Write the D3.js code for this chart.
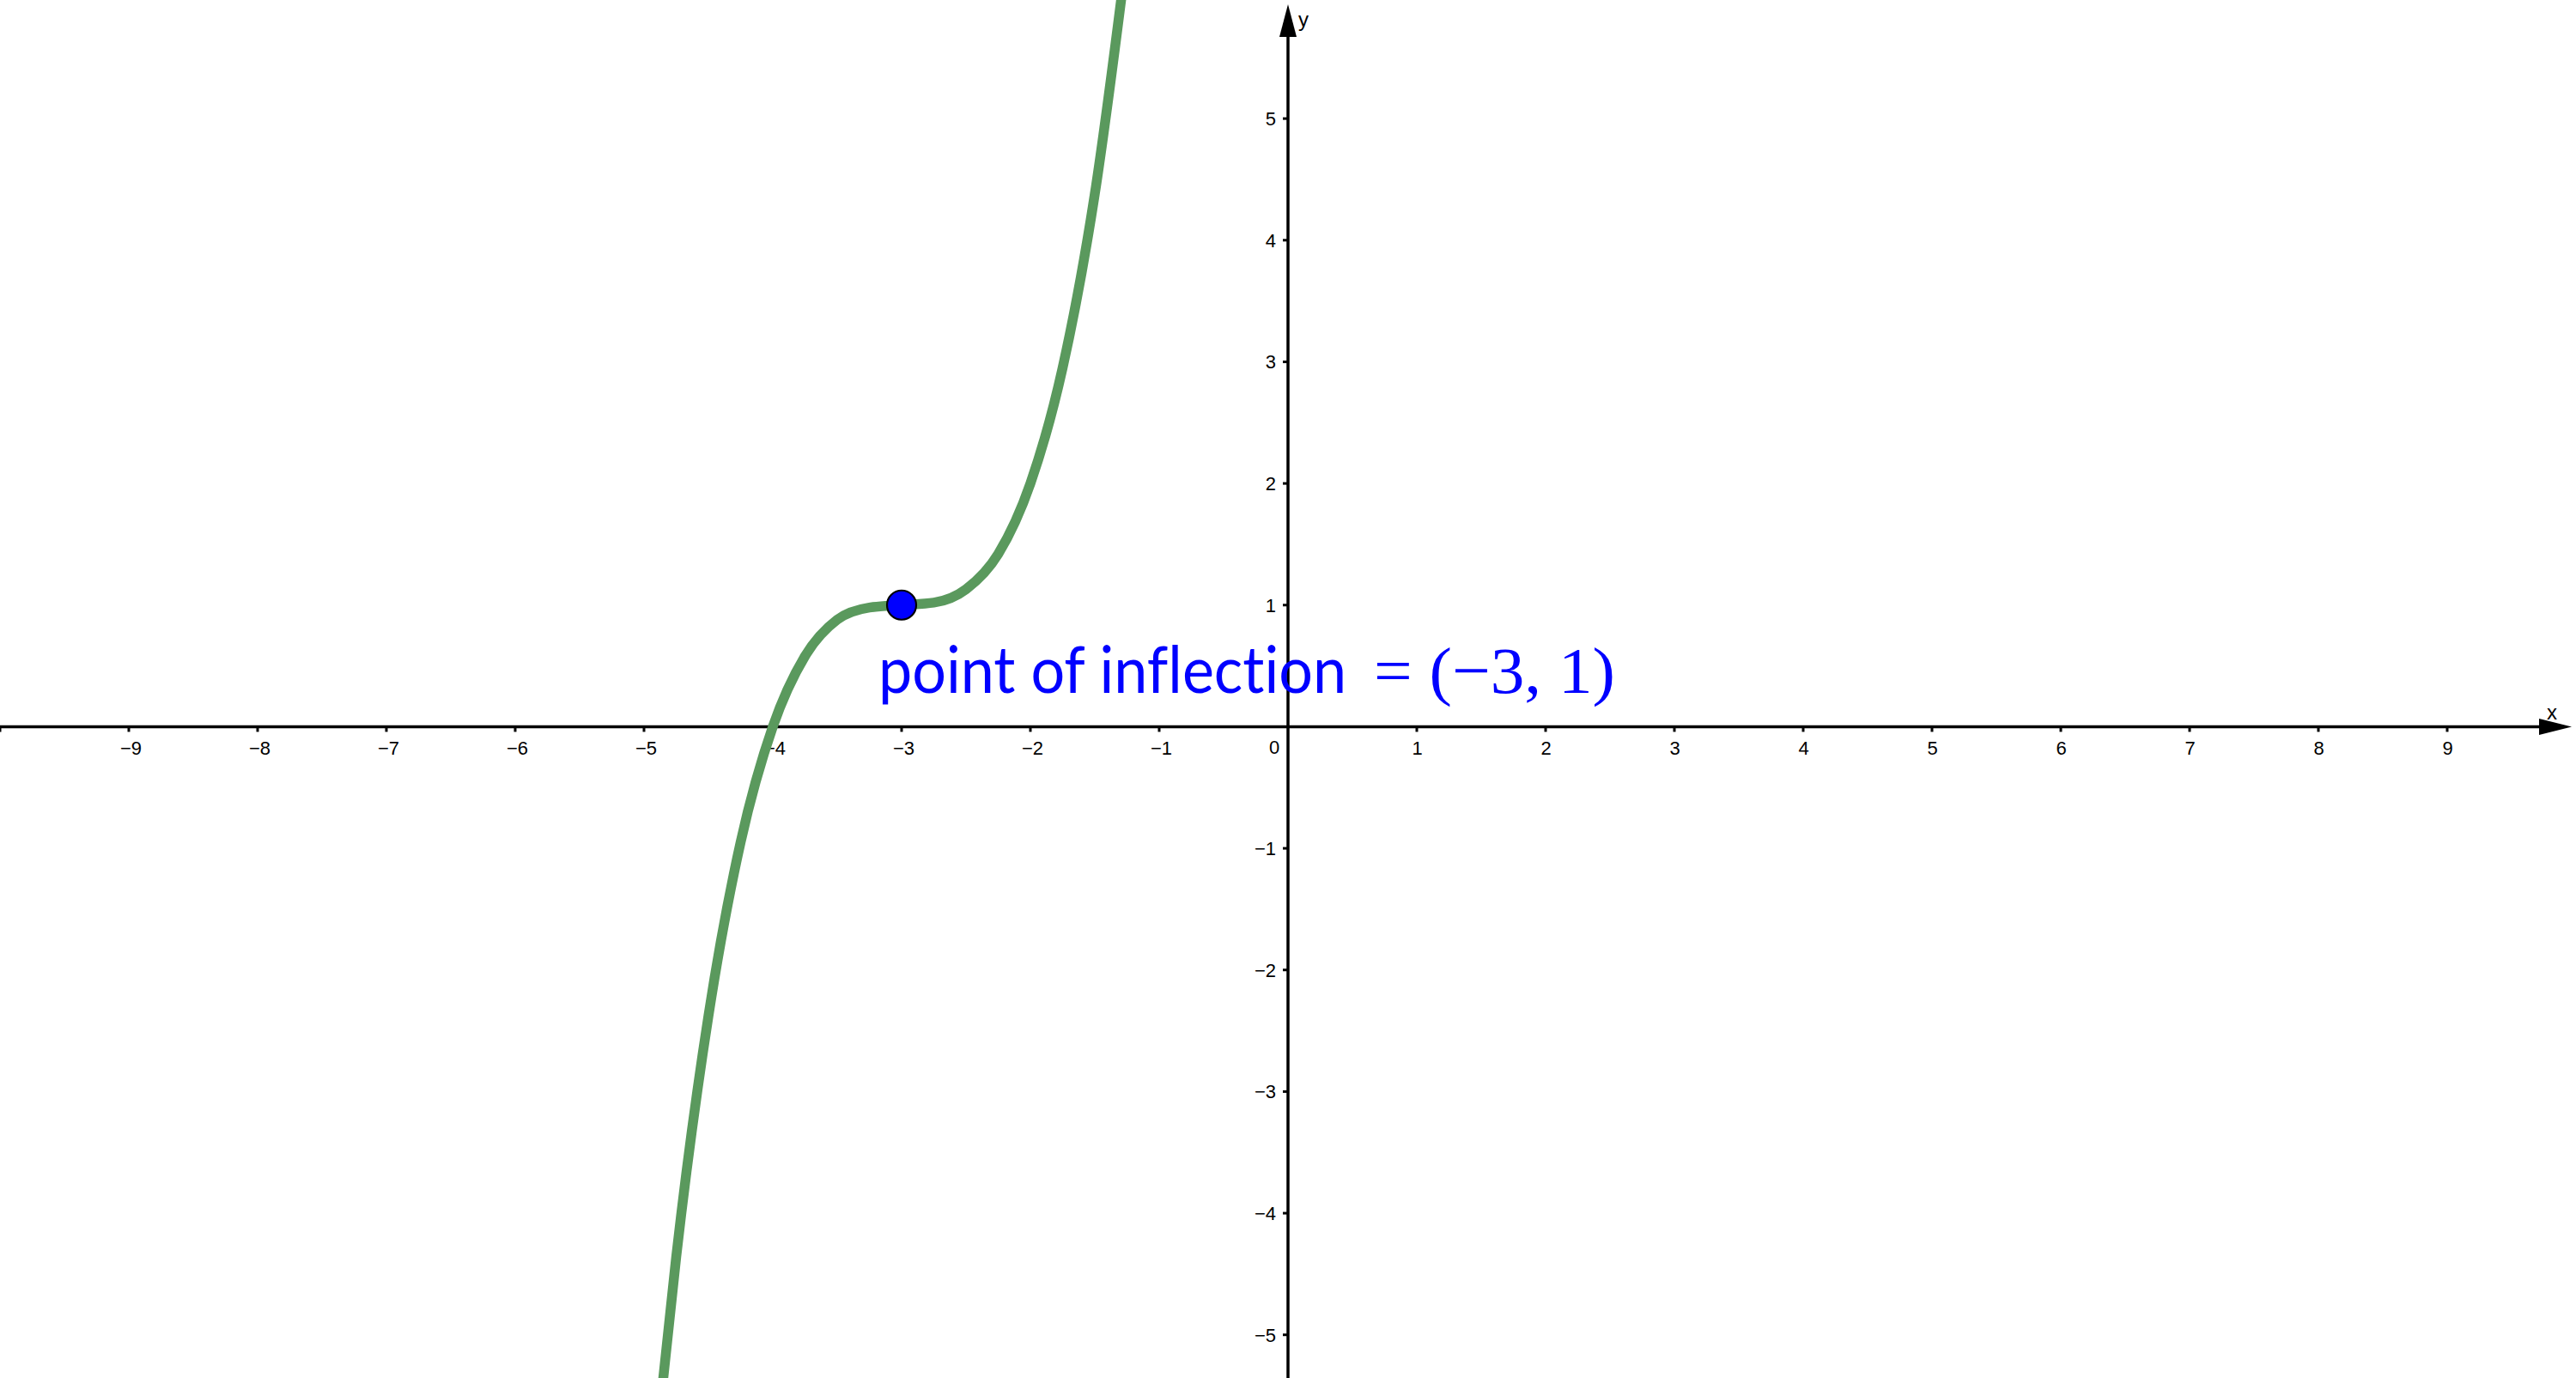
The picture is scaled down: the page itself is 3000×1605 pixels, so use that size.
<!DOCTYPE html>
<html>
<head>
<meta charset="utf-8">
<script src="https://cdn.jsdelivr.net/npm/d3@7"></script>
<style>
html,body{margin:0;padding:0;background:#fff;}
svg{display:block;}
text{font-variant-ligatures:none;}
</style>
</head>
<body>
<script>
// ---- data ----
const curveX = [-4.88, -4.75, -4.5, -4.25, -4, -3.75, -3.5, -3.25, -3, -2.75, -2.5, -2.25, -2, -1.75, -1.5, -1.25];
const curveY = [-5.65, -4.36, -2.38, -0.95, 0, 0.58, 0.88, 0.98, 1, 1.02, 1.13, 1.42, 2, 2.95, 4.38, 6.36];
const pointX = [-3];
const pointY = [1];
const xTicks = [-10, -9, -8, -7, -6, -5, -4, -3, -2, -1, 1, 2, 3, 4, 5, 6, 7, 8, 9];
const xTickLabels = [-9, -8, -7, -6, -5, -4, -3, -2, -1, 1, 2, 3, 4, 5, 6, 7, 8, 9];
const yTicks = [-5, -4, -3, -2, -1, 1, 2, 3, 4, 5];
const labelText = "point of inflection";
const labelMath = "= (\u22123, 1)";

const W = 3000, H = 1605;
const svg = d3.select("body").append("svg").attr("width", W).attr("height", H);

const x = d3.scaleLinear().domain([-10, 10]).range([0, W]);
const y = d3.scaleLinear().domain([-5.355, 5.975]).range([H, 0]);

const fmt = v => (v < 0 ? "\u2212" + Math.abs(v) : String(v));
const axisColor = "#000";

// axes lines
svg.append("line").attr("x1", 0).attr("x2", x(10) - 40).attr("y1", y(0)).attr("y2", y(0))
  .attr("stroke", axisColor).attr("stroke-width", 3.5);
svg.append("line").attr("x1", x(0)).attr("x2", x(0)).attr("y1", H).attr("y2", 40)
  .attr("stroke", axisColor).attr("stroke-width", 3.5);

// arrows
const x0 = x(0), y0 = y(0);
svg.append("path").attr("d", `M${W - 5},${y0} L${W - 43},${y0 - 9.5} L${W - 43},${y0 + 9.5} Z`).attr("fill", axisColor);
svg.append("path").attr("d", `M${x0},5 L${x0 - 10},43 L${x0 + 10},43 Z`).attr("fill", axisColor);

// x ticks
svg.append("g").selectAll("line").data(xTicks).join("line")
  .attr("x1", d => x(d)).attr("x2", d => x(d))
  .attr("y1", y0).attr("y2", y0 + 6)
  .attr("stroke", axisColor).attr("stroke-width", 3);
svg.append("g").selectAll("text").data(xTickLabels).join("text")
  .attr("x", d => x(d) + (d < 0 ? 2.5 : 0.5)).attr("y", y0 + 33)
  .attr("text-anchor", "middle")
  .attr("font-family", "Liberation Sans, Arial, sans-serif").attr("font-size", 22)
  .attr("fill", "#000").text(fmt);

// y ticks
svg.append("g").selectAll("line").data(yTicks).join("line")
  .attr("x1", x0 - 6).attr("x2", x0)
  .attr("y1", d => y(d)).attr("y2", d => y(d))
  .attr("stroke", axisColor).attr("stroke-width", 3);
svg.append("g").selectAll("text").data(yTicks).join("text")
  .attr("x", x0 - 14).attr("y", d => y(d) + 8)
  .attr("text-anchor", "end")
  .attr("font-family", "Liberation Sans, Arial, sans-serif").attr("font-size", 22)
  .attr("fill", "#000").text(fmt);

// origin label
svg.append("text").attr("x", x0 - 16).attr("y", y0 + 32).attr("text-anchor", "middle")
  .attr("font-family", "Liberation Sans, Arial, sans-serif").attr("font-size", 22).text("0");

// axis names
svg.append("text").attr("x", W - 34).attr("y", y0 - 8)
  .attr("font-family", "Liberation Sans, Arial, sans-serif").attr("font-size", 24).text("x");
svg.append("text").attr("x", x0 + 12).attr("y", 31)
  .attr("font-family", "Liberation Sans, Arial, sans-serif").attr("font-size", 24).text("y");

// curve
const pts = curveX.map((d, i) => [d, curveY[i]]);
const line = d3.line().x(d => x(d[0])).y(d => y(d[1])).curve(d3.curveMonotoneX);
svg.append("path").datum(pts).attr("d", line)
  .attr("fill", "none").attr("stroke", "#5a995d").attr("stroke-width", 11.5)
  .attr("stroke-linecap", "butt").attr("stroke-linejoin", "round");

// label
const lx = x(pointX[0]) - 27, ly = y(pointY[0]) + 102;
svg.append("text").attr("x", lx).attr("y", ly)
  .attr("font-family", "Lato, 'Open Sans', sans-serif").attr("font-size", 76)
  .attr("fill", "#0000ff")
  .attr("textLength", 545).attr("lengthAdjust", "spacingAndGlyphs")
  .text(labelText);
svg.append("text").attr("x", lx + 577).attr("y", ly)
  .attr("font-family", "'Liberation Serif', 'DejaVu Serif', serif").attr("font-size", 77)
  .attr("fill", "#0000ff")
  .attr("textLength", 281).attr("lengthAdjust", "spacingAndGlyphs")
  .text(labelMath);

// point
svg.append("g").selectAll("circle").data(pointX).join("circle")
  .attr("cx", d => x(d)).attr("cy", (d, i) => y(pointY[i]))
  .attr("r", 17).attr("fill", "#0000ff").attr("stroke", "#000").attr("stroke-width", 2.2);
</script>
</body>
</html>
